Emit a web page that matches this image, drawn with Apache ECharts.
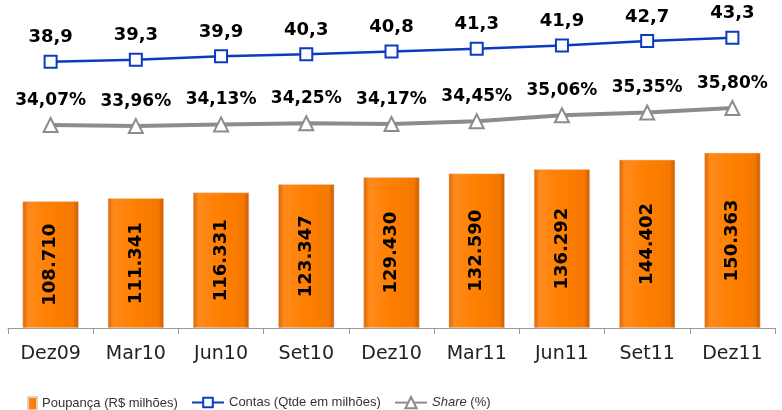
<!DOCTYPE html>
<html>
<head>
<meta charset="utf-8">
<script src="https://cdn.jsdelivr.net/npm/echarts@6/dist/echarts.min.js"></script>
<style>
  html, body { margin: 0; padding: 0; background: #fff; }
  #chart { width: 782px; height: 410px; }
</style>
</head>
<body>
<div id="chart"></div>
<script>
const categories = ['Dez09', 'Mar10', 'Jun10', 'Set10', 'Dez10', 'Mar11', 'Jun11', 'Set11', 'Dez11'];
const poupanca = [108.710, 111.341, 116.331, 123.347, 129.430, 132.590, 136.292, 144.402, 150.363];
const contas = [38.9, 39.3, 39.9, 40.3, 40.8, 41.3, 41.9, 42.7, 43.3];
const share = [34.07, 33.96, 34.13, 34.25, 34.17, 34.45, 35.06, 35.35, 35.80];

const fontFam = '"DejaVu Sans", sans-serif';
const legFont = '"Liberation Sans", sans-serif';
const comma = (v, d) => v.toFixed(d).replace('.', ',');

const myChart = echarts.init(document.getElementById('chart'));
const option = {
  animation: false,
  grid: { left: 8, right: 7, top: 10, bottom: 82 },
  legend: [
    {
      left: 22, top: 391,
      icon: 'rect', itemWidth: 9, itemHeight: 13,
      data: ['Poupança (R$ milhões)'],
      textStyle: { fontFamily: legFont, fontSize: 13, color: '#333' }
    },
    {
      left: 186, top: 391,
      itemWidth: 32, itemHeight: 12,
      data: ['Contas (Qtde em milhões)'],
      textStyle: { fontFamily: legFont, fontSize: 13, color: '#333' }
    },
    {
      left: 389, top: 391,
      itemWidth: 32, itemHeight: 14,
      data: ['Share (%)'],
      formatter: function () { return '{i|Share} (%)'; },
      textStyle: {
        fontFamily: legFont, fontSize: 13, color: '#333',
        rich: { i: { fontStyle: 'italic', fontFamily: legFont, fontSize: 13, color: '#333' } }
      }
    }
  ],
  xAxis: {
    type: 'category',
    data: categories,
    boundaryGap: true,
    axisLine: { lineStyle: { color: '#9a9a9a', width: 1 } },
    axisTick: { show: true, alignWithLabel: false, length: 6, lineStyle: { color: '#9a9a9a' } },
    axisLabel: { fontFamily: fontFam, fontSize: 19, color: '#222', margin: 17 }
  },
  yAxis: [
    { type: 'value', show: false, min: 0, max: 273, splitLine: { show: false } },
    { type: 'value', show: false, min: -9.9, max: 48.4, splitLine: { show: false } },
    { type: 'value', show: false, min: 13.42, max: 45.77, splitLine: { show: false } }
  ],
  series: [
    {
      name: 'Poupança (R$ milhões)',
      type: 'bar',
      yAxisIndex: 0,
      barWidth: 56,
      data: poupanca,
      itemStyle: {
        color: new echarts.graphic.LinearGradient(0, 0, 1, 0, [
          { offset: 0, color: '#D96400' },
          { offset: 0.1, color: '#FF8A1C' },
          { offset: 0.5, color: '#FF7F00' },
          { offset: 0.9, color: '#F57800' },
          { offset: 1, color: '#CC5C00' }
        ]),
        borderColor: '#E0D0C0',
        borderWidth: 0.5
      },
      label: {
        show: true,
        position: 'inside',
        rotate: 90,
        fontFamily: fontFam,
        fontWeight: 'bold',
        fontSize: 18,
        color: '#000',
        formatter: p => p.value.toFixed(3)
      }
    },
    {
      name: 'Contas (Qtde em milhões)',
      type: 'line',
      yAxisIndex: 1,
      data: contas,
      symbol: 'rect',
      symbolSize: 12,
      lineStyle: { color: '#0A3CBE', width: 2.5 },
      itemStyle: { color: '#fff', borderColor: '#0A3CBE', borderWidth: 2 },
      label: {
        show: true,
        position: 'top',
        distance: 8,
        fontFamily: fontFam,
        fontWeight: 'bold',
        fontSize: 18,
        color: '#000',
        formatter: p => comma(p.value, 1)
      }
    },
    {
      name: 'Share (%)',
      type: 'line',
      yAxisIndex: 2,
      data: share,
      symbol: 'triangle',
      symbolSize: 14,
      lineStyle: { color: '#8C8C8C', width: 4 },
      itemStyle: { color: '#fff', borderColor: '#8C8C8C', borderWidth: 2 },
      label: {
        show: true,
        position: 'top',
        distance: 8,
        fontFamily: fontFam,
        fontWeight: 'bold',
        fontSize: 17,
        color: '#000',
        formatter: p => comma(p.value, 2) + '%'
      }
    }
  ]
};
myChart.setOption(option);
window.addEventListener('resize', function () {
  myChart.resize();
});
</script>
</body>
</html>
